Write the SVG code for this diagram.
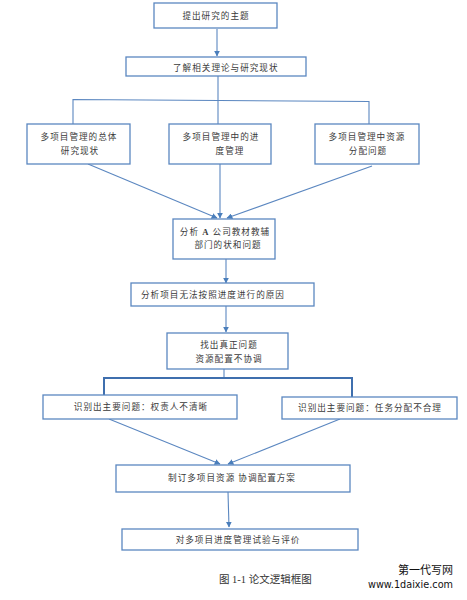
<svg xmlns="http://www.w3.org/2000/svg" width="467" height="600" viewBox="0 0 467 600">
<style>
.box{fill:#fff;stroke:#5b87c0;stroke-width:1.3}
.t{font-family:"Liberation Serif","Noto Sans CJK SC",serif;font-size:8.6px;fill:#3a3a3a;letter-spacing:1px}
.c{text-anchor:middle}
.ln{fill:none;stroke:#5b87c0;stroke-width:1.1}
.thick{fill:none;stroke:#3f6fae;stroke-width:2}
.cap{font-family:"Liberation Serif","Noto Sans CJK SC",serif;font-size:10.5px;fill:#333}
.wm{font-family:"DejaVu Sans","Noto Sans CJK SC",sans-serif;fill:#111}
</style>
<defs>
<marker id="ah" viewBox="0 0 10 10" refX="9" refY="5" markerWidth="6" markerHeight="6" orient="auto" markerUnits="userSpaceOnUse">
<path d="M0,0 L10,5 L0,10 z" fill="#4a7ebb"/>
</marker>
</defs>
<rect width="467" height="600" fill="#fff"/>
<g id="connectors">
<line class="ln" x1="217" y1="29" x2="217" y2="56" marker-end="url(#ah)"/>
<line class="ln" x1="218" y1="76" x2="218" y2="124"/>
<polyline class="ln" points="73,124 73,99.5 369,101.5 369,124"/>
<line class="ln" x1="88" y1="164" x2="217" y2="218" marker-end="url(#ah)"/>
<line class="ln" x1="220" y1="164" x2="220" y2="218" marker-end="url(#ah)"/>
<line class="ln" x1="372" y1="166" x2="227" y2="218" marker-end="url(#ah)"/>
<line class="ln" x1="226" y1="259" x2="226" y2="283" marker-end="url(#ah)"/>
<line class="ln" x1="226" y1="306" x2="226" y2="332" marker-end="url(#ah)"/>
<line class="ln" x1="224" y1="369" x2="224" y2="378"/>
<polyline class="thick" points="104,395 104,378 352,378 352,397"/>
<line class="ln" x1="109" y1="419" x2="220" y2="464" marker-end="url(#ah)"/>
<line class="ln" x1="340" y1="419" x2="228" y2="464" marker-end="url(#ah)"/>
<line class="ln" x1="228" y1="492" x2="229" y2="527" marker-end="url(#ah)"/>
</g>
<g id="n1"><rect class="box" x="154" y="3" width="123" height="25"/><text class="t c" x="216" y="19">提出研究的主题</text></g>
<g id="n2"><rect class="box" x="126" y="57" width="180" height="19"/><text class="t" x="173" y="71">了解相关理论与研究现状</text></g>
<g id="n3"><rect class="box" x="27" y="124" width="103" height="40"/><text class="t c" x="79" y="140">多项目管理的总体</text><text class="t c" x="80" y="154">研究现状</text></g>
<g id="n4"><rect class="box" x="169" y="124" width="102" height="40"/><text class="t c" x="221" y="140">多项目管理中的进</text><text class="t c" x="230" y="154">度管理</text></g>
<g id="n5"><rect class="box" x="315" y="124" width="104" height="40"/><text class="t c" x="367" y="140">多项目管理中资源</text><text class="t c" x="368" y="154">分配问题</text></g>
<g id="n6"><rect class="box" x="173" y="219" width="102" height="40"/><text class="t c" x="225" y="235">分析 <tspan font-weight="bold">A</tspan> 公司教材教辅</text><text class="t c" x="228" y="248">部门的状和问题</text></g>
<g id="n7"><rect class="box" x="131" y="283" width="183" height="23"/><text class="t" x="141" y="298">分析项目无法按照进度进行的原因</text></g>
<g id="n8"><rect class="box" x="167" y="333" width="121" height="36"/><text class="t c" x="229" y="348">找出真正问题</text><text class="t c" x="229" y="362">资源配置不协调</text></g>
<g id="n9"><rect class="box" x="43" y="395" width="194" height="24"/><text class="t c" x="141" y="410">识别出主要问题：权责人不清晰</text></g>
<g id="n10"><rect class="box" x="282" y="397" width="175" height="22"/><text class="t c" x="370" y="411">识别出主要问题：任务分配不合理</text></g>
<g id="n11"><rect class="box" x="116" y="465" width="234" height="27"/><text class="t c" x="232" y="481">制订多项目资源 协调配置方案</text></g>
<g id="n12"><rect class="box" x="122" y="529" width="236" height="21"/><text class="t c" x="238" y="543">对多项目进度管理试验与评价</text></g>
<text class="cap" x="219" y="583">图 1-1 论文逻辑框图</text>
<text class="wm" x="453" y="574" font-size="11" text-anchor="end">第一代写网</text>
<text class="wm" x="453" y="588" font-size="10" text-anchor="end" textLength="85" lengthAdjust="spacingAndGlyphs">www.1daixie.com</text>
</svg>
